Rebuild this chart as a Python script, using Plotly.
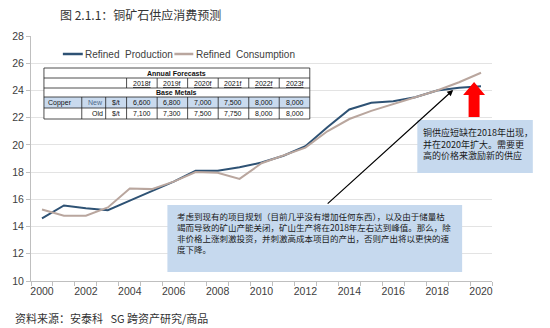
import plotly.graph_objects as go

# Copper supply / demand series (million tonnes)
years = list(range(2000, 2021))
refined_production = [14.6, 15.55, 15.35, 15.2, 15.9, 16.6, 17.3, 18.1, 18.1, 18.35, 18.7,
                      19.2, 19.9, 21.3, 22.6, 23.1, 23.2, 23.5, 24.0, 24.2, 24.3]
refined_consumption = [15.25, 14.8, 14.8, 15.4, 16.8, 16.75, 17.3, 18.0, 17.95, 17.5, 18.65,
                       19.2, 19.8, 21.0, 21.9, 22.5, 23.0, 23.5, 24.0, 24.6, 25.3]
series_names = ["Refined Production", "Refined Consumption"]
series_colors = ["#2E5274", "#B9A69E"]

# Inset forecast table
forecast_years = ["2018f", "2019f", "2020f", "2021f", "2022f", "2023f"]
copper_new = ["6,600", "6,800", "7,000", "7,500", "8,000", "8,000"]
copper_old = ["7,100", "7,300", "7,500", "7,750", "8,000", "8,000"]

title_text = "图 2.1.1：铜矿石供应消费预测"
source_text = "资料来源：安泰科   SG 跨资产研究/商品"
note_right = "铜供应短缺在2018年出现，<br>并在2020年扩大。需要更<br>高的价格来激励新的供应"
note_bottom_lines = [
    "考虑到现有的项目规划（目前几乎没有增加任何东西），以及由于储量枯",
    "竭而导致的矿山产能关闭，矿山生产将在2018年左右达到峰值。那么，除",
    "非价格上涨刺激投资，并刺激高成本项目的产出，否则产出将以更快的速",
    "度下降。",
]

W, H = 550, 328
L, R, T, B = 29, 58, 36, 47
PW, PH = W - L - R, H - T - B

def px(x):
    return (x - L) / PW

def py(y):
    return (H - B - y) / PH

CJK = "Noto Sans CJK SC"
SANS = "Liberation Sans"

fig = go.Figure()
for name, vals, col in zip(series_names, [refined_production, refined_consumption], series_colors):
    fig.add_trace(go.Scatter(x=years, y=vals, mode="lines", name=name,
                             line=dict(color=col, width=2), showlegend=False))

shapes = []
annotations = []

# ---- legend (compact line samples) ----
legend_pos = [(61, 81), (173, 192)]
for (x0, x1), name, col in zip(legend_pos, series_names, series_colors):
    shapes.append(dict(type="line", xref="paper", yref="paper", x0=px(x0), x1=px(x1),
                       y0=py(54), y1=py(54), line=dict(color=col, width=2.5)))
    annotations.append(dict(text=name.replace(" ", "&nbsp;&nbsp;"), x=px(x1 + 0.5), y=py(54.5),
                            xref="paper", yref="paper", showarrow=False, xanchor="left",
                            yanchor="middle", font=dict(family=SANS, size=10, color="#404040")))

# ---- inset table ----
col_x = [42, 80, 104, 125, 155.7, 186.3, 217, 247.7, 278.3, 309]
row_y = [68, 78, 88, 97, 108, 119]
line_style = dict(color="#222222", width=0.8)

shapes.append(dict(type="rect", xref="paper", yref="paper", x0=px(col_x[0]), x1=px(col_x[-1]),
                   y0=py(row_y[-1]), y1=py(row_y[0]), fillcolor="white", line=dict(width=0), layer="above"))
shapes.append(dict(type="rect", xref="paper", yref="paper", x0=px(col_x[0]), x1=px(col_x[-1]),
                   y0=py(row_y[4]), y1=py(row_y[3]), fillcolor="#C9DAEE", line=dict(width=0), layer="above"))
shapes.append(dict(type="rect", xref="paper", yref="paper", x0=px(col_x[0]), x1=px(col_x[-1]),
                   y0=py(row_y[-1]), y1=py(row_y[0]), line=line_style, layer="above"))
for ry in row_y[1:-1]:
    shapes.append(dict(type="line", xref="paper", yref="paper", x0=px(col_x[0]), x1=px(col_x[-1]),
                       y0=py(ry), y1=py(ry), line=line_style, layer="above"))
for cx in col_x[3:-1]:
    shapes.append(dict(type="line", xref="paper", yref="paper", x0=px(cx), x1=px(cx),
                       y0=py(row_y[2]), y1=py(row_y[1]), line=line_style, layer="above"))
for cx in col_x[1:-1]:
    shapes.append(dict(type="line", xref="paper", yref="paper", x0=px(cx), x1=px(cx),
                       y0=py(row_y[5]), y1=py(row_y[3]), line=line_style, layer="above"))


def cell(text, x, y, xanchor="center", color="#111111", bold=False):
    t = f"<b>{text}</b>" if bold else text
    annotations.append(dict(text=t, x=px(x), y=py(y), xref="paper", yref="paper",
                            showarrow=False, xanchor=xanchor, yanchor="middle",
                            font=dict(family=SANS, size=7, color=color)))

cell("Annual Forecasts", (col_x[0] + col_x[-1]) / 2, (row_y[0] + row_y[1]) / 2, bold=True)
for i, fy in enumerate(forecast_years):
    cell(f"<u>{fy}</u>", (col_x[3 + i] + col_x[4 + i]) / 2, (row_y[1] + row_y[2]) / 2)
cell("Base Metals", (col_x[0] + col_x[-1]) / 2, (row_y[2] + row_y[3]) / 2, bold=True)
cell("Copper", col_x[0] + 2, (row_y[3] + row_y[4]) / 2, xanchor="left")
cell("New", col_x[2] - 1, (row_y[3] + row_y[4]) / 2, xanchor="right", color="#4F6A8A")
cell("Old", col_x[2] - 1, (row_y[4] + row_y[5]) / 2, xanchor="right")
cell("$/t", (col_x[2] + col_x[3]) / 2, (row_y[3] + row_y[4]) / 2)
cell("$/t", (col_x[2] + col_x[3]) / 2, (row_y[4] + row_y[5]) / 2)
for i in range(6):
    cx = (col_x[3 + i] + col_x[4 + i]) / 2
    cell(copper_new[i], cx, (row_y[3] + row_y[4]) / 2)
    cell(copper_old[i], cx, (row_y[4] + row_y[5]) / 2)

# ---- note boxes ----
shapes.append(dict(type="rect", xref="paper", yref="paper", x0=px(417), x1=px(533),
                   y0=py(173), y1=py(120), fillcolor="#C6D9EE", line=dict(width=0), layer="above"))
annotations.append(dict(text=note_right, x=px(421), y=py(124), xref="paper", yref="paper",
                        showarrow=False, xanchor="left", yanchor="top", align="left",
                        font=dict(family=CJK, size=9, color="#1a1a1a")))

shapes.append(dict(type="rect", xref="paper", yref="paper", x0=px(166), x1=px(462),
                   y0=py(272), y1=py(205), fillcolor="#C6D9EE", line=dict(width=0), layer="above"))
annotations.append(dict(text="<br>".join(note_bottom_lines), x=px(175), y=py(209),
                        xref="paper", yref="paper", showarrow=False, xanchor="left",
                        yanchor="top", align="left", borderpad=0,
                        font=dict(family=CJK, size=8.5, color="#1a1a1a")))

# black pointer arrow toward the crossover
annotations.append(dict(text="", x=px(453), y=py(90), ax=326 - 453, ay=205 - 90,
                        xref="paper", yref="paper", axref="pixel", ayref="pixel",
                        showarrow=True, arrowhead=2, arrowsize=1, arrowwidth=1.2, arrowcolor="#000000"))

# red block arrow
red_path = ("M {a},{b} L {c},{d} L {e},{d} L {e},{f} L {g},{f} L {g},{d} L {h},{d} Z").format(
    a=px(474), b=py(82), c=px(485), d=py(95), e=px(479.5), f=py(117), g=px(468.5), h=px(463))
shapes.append(dict(type="path", xref="paper", yref="paper", path=red_path,
                   fillcolor="#FF0000", line=dict(width=0), layer="above"))

annotations.append(dict(text=title_text, x=px(56), y=py(14), xref="paper", yref="paper",
                        showarrow=False, xanchor="left", yanchor="middle",
                        font=dict(family=CJK, size=12, color="#333333")))
annotations.append(dict(text=source_text, x=px(11), y=py(318), xref="paper", yref="paper",
                        showarrow=False, xanchor="left", yanchor="middle",
                        font=dict(family=CJK, size=11, color="#333333")))

fig.update_layout(
    width=W, height=H,
    margin=dict(l=L, r=R, t=T, b=B),
    paper_bgcolor="white", plot_bgcolor="white",
    shapes=shapes, annotations=annotations,
    showlegend=False,
    xaxis=dict(range=[1999.5, 2020.5], tickvals=years[::2], ticks="", showgrid=False,
               showline=True, linecolor="#BFBFBF", linewidth=1,
               tickfont=dict(family=SANS, size=10.5, color="#404040"),
               minor=dict(tickvals=[y - 0.5 for y in years] + [years[-1] + 0.5],
                          ticks="outside", ticklen=4, tickcolor="#BFBFBF", showgrid=False),
               zeroline=False, fixedrange=True),
    yaxis=dict(range=[10, 28], dtick=2, showgrid=True, gridcolor="#E3E3E3", gridwidth=1,
               showline=True, linecolor="#BFBFBF", linewidth=1, ticks="outside", ticklen=4,
               tickcolor="#BFBFBF", tickfont=dict(family=SANS, size=10.5, color="#404040"),
               zeroline=False, fixedrange=True),
)

fig.write_html("out.html")
